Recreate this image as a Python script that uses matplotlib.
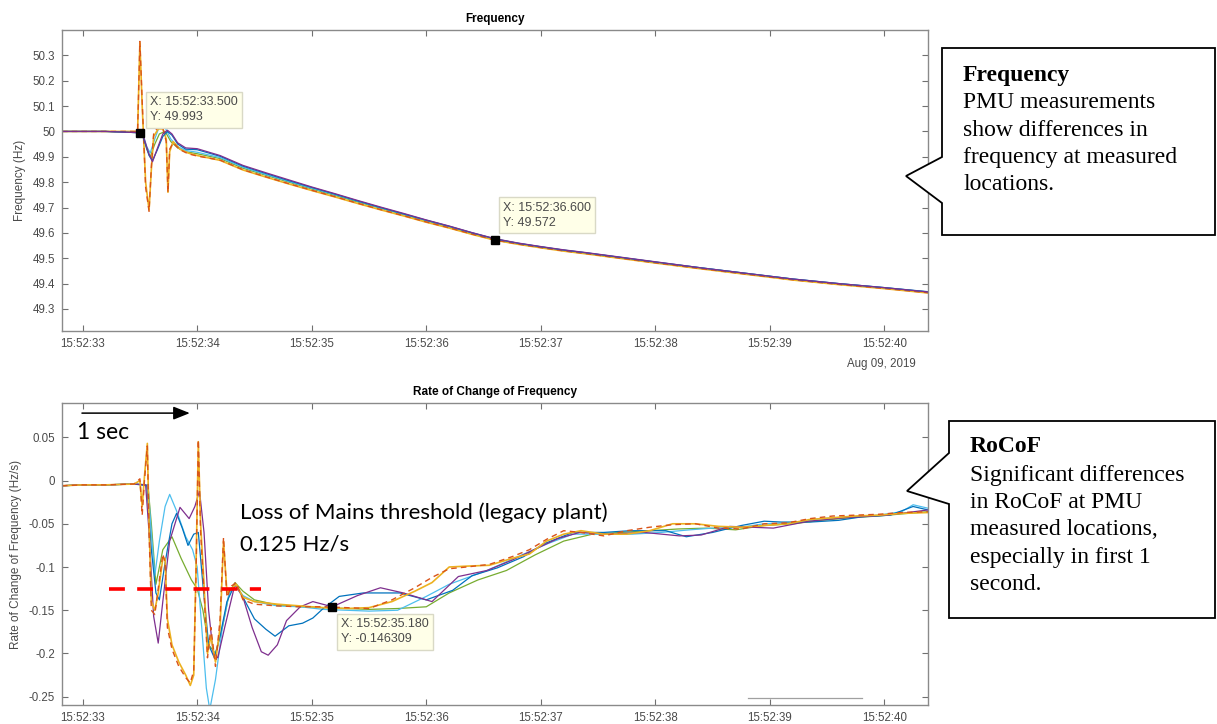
import numpy as np
import matplotlib
matplotlib.use('Agg')
import matplotlib.pyplot as plt
from matplotlib.patches import Polygon

# time axis in seconds after 15:52:00
xtick_pos = [33, 34, 35, 36, 37, 38, 39, 40]
xtick_labels = ['15:52:33', '15:52:34', '15:52:35', '15:52:36', '15:52:37', '15:52:38', '15:52:39', '15:52:40']
freq_ticks = [49.3, 49.4, 49.5, 49.6, 49.7, 49.8, 49.9, 50.0, 50.1, 50.2, 50.3]
rocof_ticks = [-0.25, -0.2, -0.15, -0.1, -0.05, 0.0, 0.05]

colors = {'blue': '#0072BD', 'orange': '#D95319', 'yellow': '#EDB120',
          'purple': '#7E2F8E', 'green': '#77AC30', 'lightblue': '#4DBEEE'}

# ---- frequency (Hz): event window ----
fy_t = [32.82, 33.2, 33.48, 33.50, 33.52, 33.55, 33.58, 33.60, 33.62, 33.66, 33.70, 33.73, 33.745, 33.76, 33.79, 33.85, 33.92, 34.0]
f_yellow_ev = [50.0, 50.0, 50.0, 50.35, 50.1, 49.8, 49.69, 49.85, 49.98, 50.01, 50.01, 49.97, 49.76, 49.92, 49.96, 49.93, 49.915, 49.905]
f_orange_ev = [50.0, 50.0, 50.0, 50.355, 50.12, 49.78, 49.685, 49.86, 49.99, 50.02, 50.015, 49.96, 49.76, 49.93, 49.955, 49.928, 49.912, 49.903]
fp_t = [32.82, 33.2, 33.50, 33.53, 33.58, 33.61, 33.65, 33.70, 33.74, 33.78, 33.83, 33.90, 34.0, 34.1]
f_purple_ev = [50.0, 50.0, 49.995, 49.98, 49.91, 49.88, 49.93, 49.99, 50.005, 49.99, 49.955, 49.935, 49.932, 49.915]
f_blue_ev = [50.0, 50.0, 49.995, 49.975, 49.905, 49.885, 49.925, 49.98, 50.0, 49.985, 49.95, 49.93, 49.928, 49.91]
fl_t = [32.82, 33.2, 33.50, 33.53, 33.56, 33.59, 33.63, 33.67, 33.72, 33.77, 33.83, 33.90, 34.0, 34.1]
f_lightblue_ev = [50.0, 50.0, 49.995, 49.985, 49.94, 49.915, 49.97, 50.02, 50.015, 49.97, 49.94, 49.925, 49.918, 49.905]
f_green_ev = [50.0, 50.0, 49.995, 49.98, 49.93, 49.90, 49.95, 49.99, 50.0, 49.96, 49.935, 49.92, 49.912, 49.9]

# ---- frequency (Hz): decline after the event ----
tail_t = [34.2, 34.4, 34.6, 34.8, 35.0, 35.2, 35.4, 35.6, 35.8, 36.0, 36.2, 36.4, 36.6,
          36.8, 37.0, 37.2, 37.4, 37.6, 37.8, 38.0, 38.4, 38.8, 39.2, 39.6, 40.0, 40.38]
f_yellow_tail = [49.886, 49.848, 49.820, 49.793, 49.767, 49.742, 49.716, 49.691, 49.667, 49.642, 49.619, 49.594, 49.571,
                 49.555, 49.541, 49.528, 49.517, 49.505, 49.493, 49.481, 49.458, 49.436, 49.414, 49.396, 49.380, 49.363]
f_orange_tail = [49.887, 49.849, 49.821, 49.794, 49.768, 49.743, 49.717, 49.692, 49.668, 49.643, 49.620, 49.595, 49.572,
                 49.556, 49.542, 49.529, 49.518, 49.506, 49.494, 49.482, 49.459, 49.437, 49.415, 49.397, 49.381, 49.364]
f_purple_tail = [49.905, 49.866, 49.837, 49.809, 49.781, 49.755, 49.728, 49.702, 49.677, 49.651, 49.627, 49.601, 49.577,
                 49.560, 49.546, 49.533, 49.522, 49.510, 49.498, 49.486, 49.462, 49.440, 49.418, 49.400, 49.384, 49.367]
f_blue_tail = [49.902, 49.863, 49.834, 49.806, 49.779, 49.753, 49.726, 49.700, 49.675, 49.650, 49.626, 49.600, 49.576,
               49.559, 49.545, 49.532, 49.521, 49.509, 49.497, 49.485, 49.462, 49.440, 49.418, 49.400, 49.384, 49.368]
f_lightblue_tail = [49.897, 49.859, 49.830, 49.803, 49.776, 49.751, 49.725, 49.699, 49.674, 49.649, 49.625, 49.600, 49.576,
                    49.559, 49.545, 49.532, 49.521, 49.509, 49.497, 49.485, 49.462, 49.440, 49.418, 49.400, 49.384, 49.367]
f_green_tail = [49.893, 49.855, 49.827, 49.800, 49.773, 49.748, 49.722, 49.697, 49.672, 49.647, 49.623, 49.598, 49.575,
                49.558, 49.544, 49.531, 49.520, 49.508, 49.496, 49.484, 49.461, 49.439, 49.417, 49.399, 49.383, 49.366]

# ---- RoCoF (Hz/s) ----
ry_t = [32.82, 33.0, 33.2, 33.45, 33.50, 33.52, 33.54, 33.565, 33.58, 33.60, 33.63, 33.66, 33.70, 33.72, 33.74, 33.78,
        33.84, 33.90, 33.94, 33.97, 33.99, 34.01, 34.03, 34.06, 34.09, 34.12, 34.16, 34.20, 34.23, 34.26, 34.30, 34.34,
        34.40, 34.50, 34.70, 34.90, 35.10, 35.30, 35.50, 35.70, 35.90, 36.05, 36.20, 36.35, 36.55, 36.75, 36.90, 37.05,
        37.20, 37.35, 37.55, 37.75, 37.95, 38.15, 38.35, 38.55, 38.75, 38.95, 39.15, 39.35, 39.55, 39.75, 39.95, 40.15, 40.38]
r_yellow = [-0.006, -0.005, -0.005, -0.004, 0.0, -0.03, 0.005, 0.043, -0.05, -0.14, -0.15, -0.13, -0.09, -0.09, -0.16, -0.19,
            -0.21, -0.225, -0.237, -0.225, -0.1, 0.045, -0.05, -0.12, -0.2, -0.18, -0.21, -0.17, -0.07, -0.13, -0.125, -0.12,
            -0.135, -0.14, -0.143, -0.145, -0.147, -0.148, -0.147, -0.14, -0.128, -0.118, -0.1, -0.099, -0.098, -0.09, -0.085, -0.07,
            -0.062, -0.058, -0.062, -0.062, -0.058, -0.05, -0.05, -0.053, -0.054, -0.052, -0.05, -0.045, -0.043, -0.041, -0.04, -0.038, -0.037]
r_orange = [-0.006, -0.005, -0.005, -0.004, 0.002, -0.04, 0.0, 0.04, -0.06, -0.15, -0.155, -0.125, -0.085, -0.095, -0.17, -0.195,
            -0.215, -0.228, -0.234, -0.22, -0.11, 0.047, -0.06, -0.13, -0.205, -0.17, -0.215, -0.16, -0.066, -0.135, -0.122, -0.118,
            -0.138, -0.143, -0.145, -0.146, -0.146, -0.147, -0.148, -0.138, -0.124, -0.112, -0.102, -0.1, -0.097, -0.088, -0.08, -0.068,
            -0.058, -0.06, -0.064, -0.058, -0.054, -0.051, -0.05, -0.055, -0.056, -0.05, -0.049, -0.044, -0.041, -0.04, -0.039, -0.037, -0.036]
rp_t = [32.82, 33.0, 33.2, 33.45, 33.55, 33.58, 33.62, 33.66, 33.70, 33.76, 33.85, 33.93, 33.98, 34.02, 34.06, 34.10, 34.14,
        34.18, 34.24, 34.33, 34.40, 34.48, 34.56, 34.62, 34.70, 34.78, 34.90, 35.01, 35.18, 35.40, 35.60, 35.80, 36.05, 36.28,
        36.53, 36.75, 36.94, 37.15, 37.34, 37.60, 37.90, 38.21, 38.40, 38.65, 39.03, 39.34, 39.65, 40.02, 40.38]
r_purple = [-0.006, -0.005, -0.005, -0.004, -0.005, -0.06, -0.157, -0.188, -0.14, -0.07, -0.031, -0.044, -0.03, -0.012, -0.06,
            -0.15, -0.2, -0.205, -0.17, -0.12, -0.135, -0.17, -0.198, -0.202, -0.19, -0.162, -0.146, -0.140, -0.146, -0.133,
            -0.124, -0.13, -0.140, -0.111, -0.104, -0.092, -0.080, -0.067, -0.06, -0.062, -0.06, -0.064, -0.063, -0.053, -0.055,
            -0.047, -0.043, -0.04, -0.034]
rb_t = [32.82, 33.0, 33.2, 33.45, 33.56, 33.60, 33.64, 33.67, 33.72, 33.78, 33.82, 33.87, 33.92, 33.97, 34.01, 34.05, 34.10,
        34.15, 34.20, 34.26, 34.33, 34.40, 34.50, 34.60, 34.68, 34.80, 34.92, 35.01, 35.10, 35.24, 35.45, 35.77, 36.0, 36.23,
        36.40, 36.62, 36.85, 37.03, 37.28, 37.55, 37.78, 38.09, 38.27, 38.50, 38.75, 38.95, 39.10, 39.35, 39.60, 39.80, 40.05,
        40.25, 40.38]
r_blue = [-0.006, -0.005, -0.005, -0.004, -0.006, -0.08, -0.13, -0.138, -0.095, -0.05, -0.038, -0.055, -0.075, -0.062, -0.06,
          -0.12, -0.19, -0.205, -0.18, -0.14, -0.12, -0.135, -0.16, -0.172, -0.18, -0.168, -0.165, -0.159, -0.148, -0.134, -0.13,
          -0.130, -0.138, -0.127, -0.11, -0.101, -0.088, -0.073, -0.06, -0.06, -0.058, -0.058, -0.065, -0.06, -0.052, -0.047,
          -0.048, -0.048, -0.046, -0.042, -0.04, -0.03, -0.034]
rl_t = [32.82, 33.0, 33.2, 33.45, 33.57, 33.60, 33.63, 33.67, 33.72, 33.76, 33.82, 33.90, 33.96, 34.00, 34.04, 34.08, 34.11,
        34.16, 34.22, 34.28, 34.33, 34.40, 34.50, 34.70, 34.90, 35.10, 35.30, 35.50, 35.75, 36.00, 36.20, 36.53, 36.80, 37.06,
        37.28, 37.55, 37.80, 38.05, 38.30, 38.50, 38.74, 38.95, 39.20, 39.45, 39.70, 39.95, 40.15, 40.25, 40.38]
r_lightblue = [-0.006, -0.005, -0.005, -0.004, -0.005, -0.06, -0.11, -0.07, -0.03, -0.016, -0.035, -0.065, -0.08, -0.1, -0.17,
               -0.24, -0.265, -0.23, -0.17, -0.13, -0.12, -0.133, -0.14, -0.145, -0.146, -0.149, -0.15, -0.151, -0.15, -0.134,
               -0.12, -0.104, -0.088, -0.073, -0.062, -0.062, -0.062, -0.06, -0.057, -0.055, -0.054, -0.05, -0.049, -0.044,
               -0.042, -0.04, -0.036, -0.028, -0.032]
rg_t = [32.82, 33.0, 33.2, 33.45, 33.57, 33.60, 33.64, 33.70, 33.78, 33.86, 33.95, 34.00, 34.05, 34.10, 34.16, 34.22, 34.28,
        34.33, 34.40, 34.50, 34.70, 34.90, 35.10, 35.30, 35.50, 35.75, 36.00, 36.20, 36.45, 36.70, 36.95, 37.20, 37.45, 37.70,
        37.95, 38.20, 38.45, 38.70, 38.95, 39.20, 39.45, 39.70, 39.95, 40.20, 40.38]
r_green = [-0.006, -0.005, -0.005, -0.004, -0.005, -0.05, -0.12, -0.08, -0.065, -0.09, -0.115, -0.125, -0.15, -0.19, -0.2,
           -0.17, -0.13, -0.118, -0.128, -0.138, -0.144, -0.146, -0.147, -0.148, -0.149, -0.148, -0.146, -0.13, -0.115, -0.104,
           -0.086, -0.07, -0.062, -0.06, -0.058, -0.056, -0.055, -0.057, -0.052, -0.05, -0.046, -0.043, -0.041, -0.038, -0.036]

# data tips and threshold
freq_tips = [(33.5, 49.993), (36.6, 49.572)]
rocof_tip = (35.18, -0.146309)
lom_threshold = -0.125
threshold_span = (33.23, 34.56)

plt.rcParams['font.family'] = 'Liberation Sans'
plt.rcParams['axes.unicode_minus'] = False

W, H = 1217, 724
fig = plt.figure(figsize=(W / 100, H / 100), dpi=100)


def px_rect(l, t, r, b):
    return [l / W, 1 - b / H, (r - l) / W, (b - t) / H]


def style_axes(ax):
    for s in ax.spines.values():
        s.set_color('#8a8a8a')
        s.set_linewidth(1.0)
    ax.tick_params(direction='in', length=4, width=0.8, color='#707070', labelcolor='#4a4a4a',
                   labelsize=8.3, top=True, right=True, pad=5)
    ax.set_xticks(xtick_pos)
    ax.set_xticklabels(xtick_labels)
    ax.set_xlim(32.82, 40.38)


ax1 = fig.add_axes(px_rect(62, 30, 928, 331))
ax2 = fig.add_axes(px_rect(62, 403, 928, 705))

# top: frequency
ax1.plot(fl_t[:-1] + tail_t, f_green_ev[:-1] + f_green_tail, color=colors['green'], lw=0.9)
ax1.plot(fl_t[:-1] + tail_t, f_lightblue_ev[:-1] + f_lightblue_tail, color=colors['lightblue'], lw=0.9)
ax1.plot(fy_t + tail_t, f_yellow_ev + f_yellow_tail, color=colors['yellow'], lw=1.2)
ax1.plot(fy_t + tail_t, f_orange_ev + f_orange_tail, color=colors['orange'], lw=1.0, dashes=(4, 3))
ax1.plot(fp_t[:-1] + tail_t, f_blue_ev[:-1] + f_blue_tail, color=colors['blue'], lw=0.9)
ax1.plot(fp_t[:-1] + tail_t, f_purple_ev[:-1] + f_purple_tail, color=colors['purple'], lw=0.9)

ax1.set_ylim(49.213, 50.4)
ax1.set_yticks(freq_ticks)
ax1.set_yticklabels(['%g' % v for v in freq_ticks])
style_axes(ax1)
ax1.set_title('Frequency', fontsize=8.5, fontweight='bold', pad=6)
ax1.set_ylabel('Frequency (Hz)', fontsize=8.5, color='#4a4a4a', labelpad=5)

# bottom: RoCoF
ax2.plot(rg_t, r_green, color=colors['green'], lw=0.9)
ax2.plot(rl_t, r_lightblue, color=colors['lightblue'], lw=0.9)
ax2.plot(rb_t, r_blue, color=colors['blue'], lw=0.9)
ax2.plot(rp_t, r_purple, color=colors['purple'], lw=0.9)
ax2.plot(ry_t, r_yellow, color=colors['yellow'], lw=1.2)
ax2.plot(ry_t, r_orange, color=colors['orange'], lw=1.0, dashes=(4, 3))

ax2.set_ylim(-0.2596, 0.0897)
ax2.set_yticks(rocof_ticks)
ax2.set_yticklabels(['%g' % v for v in rocof_ticks])
style_axes(ax2)
ax2.set_title('Rate of Change of Frequency', fontsize=8.5, fontweight='bold', pad=6)
ax2.set_ylabel('Rate of Change of Frequency (Hz/s)', fontsize=8.5, color='#4a4a4a', labelpad=5)

# data tips
tip_box = dict(boxstyle='square,pad=0.35', fc='#FFFFE8', ec='#D9D9C6', lw=1)
for (t, v), off in zip(freq_tips, [(10, 10), (8, 11)]):
    ax1.plot(t, v, 's', color='black', ms=6, zorder=5)
    ax1.annotate('X: 15:52:%06.3f\nY: %g' % (t, v), (t, v), xytext=off, textcoords='offset pixels',
                 ha='left', va='bottom', fontsize=9, color='#4a4a4a', bbox=tip_box, zorder=6,
                 linespacing=1.35)
ax2.plot(rocof_tip[0], rocof_tip[1], 's', color='black', ms=6, zorder=5)
ax2.annotate('X: 15:52:%06.3f\nY: %g' % rocof_tip, rocof_tip, xytext=(9, -11), textcoords='offset pixels',
             ha='left', va='top', fontsize=9, color='#4a4a4a', bbox=tip_box, zorder=6, linespacing=1.35)

# threshold line and notes
ax2.plot(threshold_span, [lom_threshold, lom_threshold], color='#FF0000', lw=2.6,
         dashes=(4.4, 3.4), solid_capstyle='butt', dash_capstyle='butt', zorder=7)
ax2.annotate('', xy=(33.96, 0.078), xytext=(32.97, 0.078),
             arrowprops=dict(arrowstyle='-|>,head_length=1.0,head_width=0.4', color='black', lw=1.1))
ax2.text(32.95, 0.056, '1 sec', fontsize=16.5, family='Lato', va='center', ha='left')
ax2.text(34.37, -0.0375, 'Loss of Mains threshold (legacy plant)', fontsize=16, family='Lato', va='center', ha='left')
ax2.text(34.37, -0.0745, '0.125 Hz/s', fontsize=16, family='Lato', va='center', ha='left')
ax2.plot([0.792, 0.924], [0.023, 0.023], color='#a0a0a0', lw=0.9, transform=ax2.transAxes)

fig.text(916 / W, 1 - 364 / H, 'Aug 09, 2019', ha='right', va='center', fontsize=8.3, color='#4a4a4a')

# callout boxes
def callout(pts):
    xy = [(x / W, 1 - y / H) for x, y in pts]
    fig.add_artist(Polygon(xy, closed=True, fc='white', ec='black', lw=1.3, transform=fig.transFigure))

callout([(942, 48), (1215, 48), (1215, 235), (942, 235), (942, 203), (906, 176), (942, 157)])
callout([(949, 421), (1215, 421), (1215, 618), (949, 618), (949, 504), (907, 491), (949, 453)])

serif = 'Liberation Serif'
top_lines = ['PMU measurements', 'show differences in', 'frequency at measured', 'locations.']
fig.text(963 / W, 1 - 75 / H, 'Frequency', fontsize=17, family=serif, fontweight='bold', va='center')
for i, s in enumerate(top_lines):
    fig.text(963 / W, 1 - (103 + 27.3 * i) / H, s, fontsize=17, family=serif, va='center')
bot_lines = ['Significant differences', 'in RoCoF at PMU', 'measured locations,', 'especially in first 1', 'second.']
fig.text(970 / W, 1 - 447 / H, 'RoCoF', fontsize=17, family=serif, fontweight='bold', va='center')
for i, s in enumerate(bot_lines):
    fig.text(970 / W, 1 - (475 + 27.4 * i) / H, s, fontsize=17, family=serif, va='center')

fig.savefig('out.png', dpi=100)
